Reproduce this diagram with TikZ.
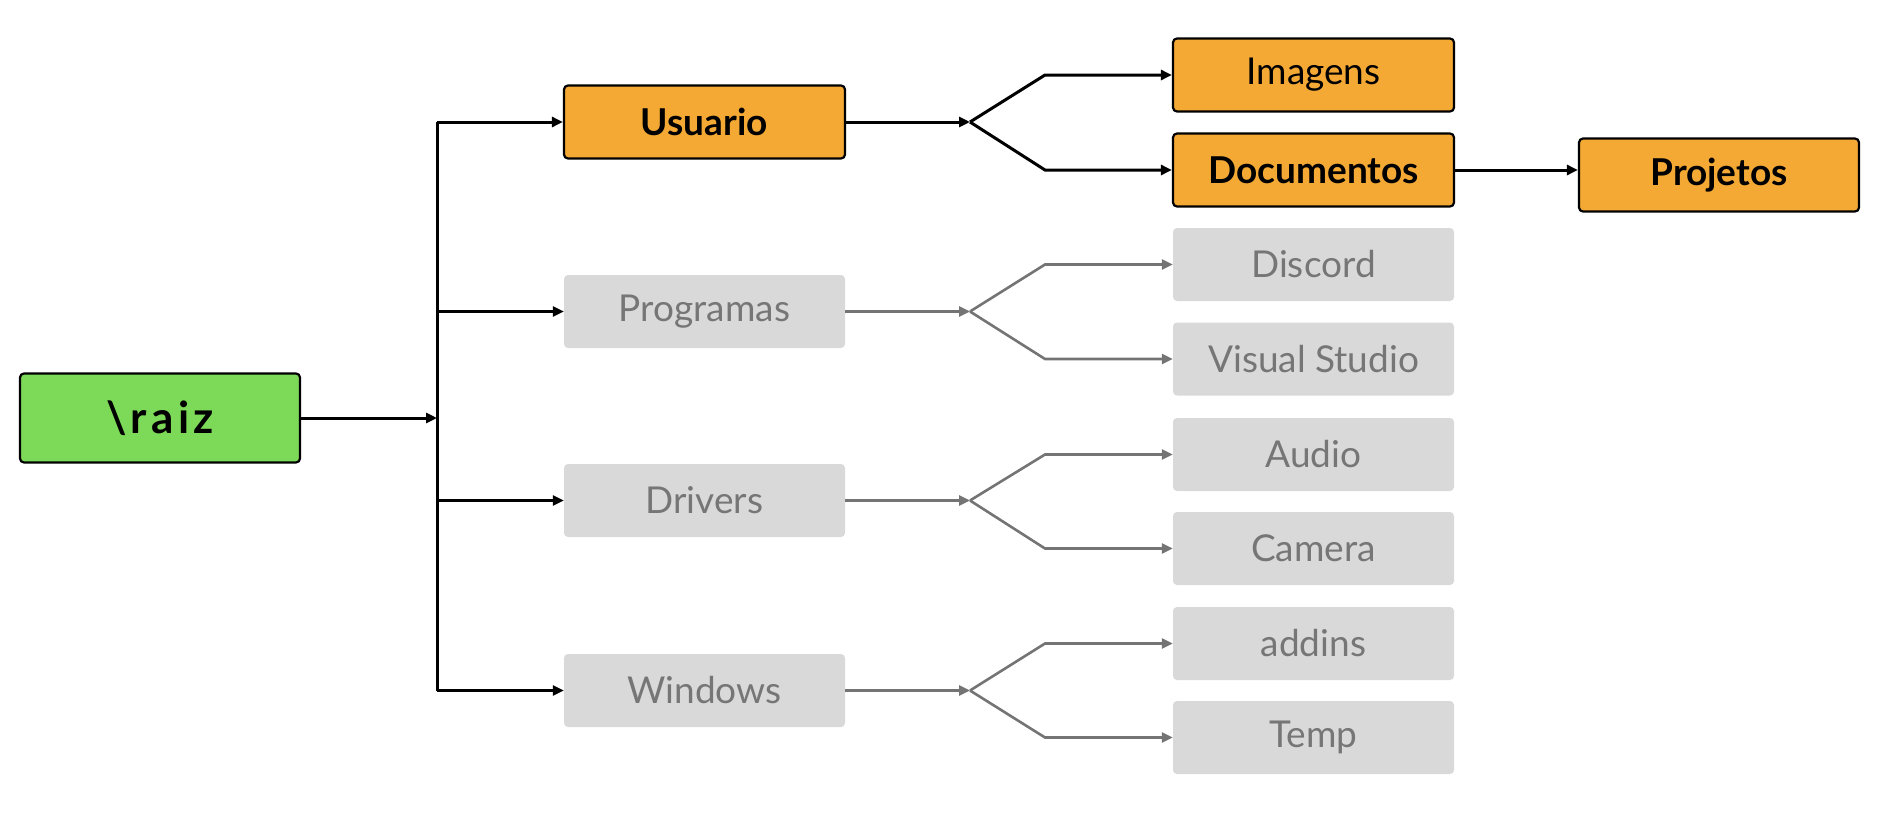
\documentclass[tikz,border=0pt]{standalone}
\usepackage{fontspec}
\setmainfont{Lato}
\usetikzlibrary{arrows.meta}
\definecolor{raizgreen}{HTML}{7DDA58}
\definecolor{boxorange}{HTML}{F4A935}
\definecolor{boxgray}{HTML}{D9D9D9}
\definecolor{txtgray}{HTML}{767676}
\definecolor{lngray}{HTML}{747474}
\tikzset{
  base/.style={minimum width=281pt, minimum height=73pt, rounded corners=4pt, inner sep=0pt, font=\fontsize{37}{42}\selectfont},
  orangebox/.style={base, fill=boxorange, draw=black, line width=2.2pt},
  orangebold/.style={orangebox, font=\fontsize{37}{42}\selectfont\bfseries},
  graybox/.style={base, fill=boxgray, text=txtgray},
  blk/.style={line width=3pt, black, -{Triangle[length=11pt,width=10pt]}},
  blkline/.style={line width=3pt, black},
  gry/.style={line width=2.6pt, lngray, -{Triangle[length=11pt,width=10pt]}},
}
\begin{document}
\begin{tikzpicture}[x=1pt,y=-1pt]
\useasboundingbox (0,0) rectangle (1877,819);
% root
\node[base, minimum width=280pt, minimum height=89pt, fill=raizgreen, draw=black, line width=2.2pt, font=\fontsize{44}{48}\selectfont\bfseries] (raiz) at (160,418) {\addfontfeature{LetterSpace=10}\textbackslash raiz};
% level 1
\node[orangebold] (usuario) at (704.5,122) {Usuario};
\node[graybox] (programas) at (704.5,311.5) {Programas};
\node[graybox] (drivers) at (704.5,500.5) {Drivers};
\node[graybox] (windows) at (704.5,690.5) {Windows};
% level 2
\node[orangebox] (imagens) at (1313.5,75) {Imagens};
\node[orangebold] (documentos) at (1313.5,170) {Documentos};
\node[graybox] (discord) at (1313.5,264.5) {Discord};
\node[graybox] (visual) at (1313.5,359) {Visual Studio};
\node[graybox] (audio) at (1313.5,454.5) {Audio};
\node[graybox] (camera) at (1313.5,548.5) {Camera};
\node[graybox] (addins) at (1313.5,643.5) {addins};
\node[graybox] (temp) at (1313.5,737.5) {Temp};
% level 3
\node[orangebold, minimum width=280pt] (projetos) at (1719,175) {Projetos};
% trunk
\coordinate (rj) at (437,418);
\coordinate (t1) at (437,122);
\coordinate (t2) at (437,311.5);
\coordinate (t3) at (437,500.5);
\coordinate (t4) at (437,690.5);
\draw[blkline] (t1) -- (t4);
\draw[blk] (raiz.east) -- (rj);
\draw[blk] (t1) -- (usuario.west);
\draw[blk] (t2) -- (programas.west);
\draw[blk] (t3) -- (drivers.west);
\draw[blk] (t4) -- (windows.west);
% forks
\coordinate (f1) at (970,122);
\draw[blk] (usuario.east) -- (f1);
\draw[blk] (f1) -- (1045,75) -- (imagens.west);
\draw[blk] (f1) -- (1045,170) -- (documentos.west);
\draw[blk] (documentos.east) -- (projetos.west |- documentos.east);
\coordinate (f2) at (970,311.5);
\draw[gry] (programas.east) -- (f2);
\draw[gry] (f2) -- (1045,264.5) -- (discord.west);
\draw[gry] (f2) -- (1045,359) -- (visual.west);
\coordinate (f3) at (970,500.5);
\draw[gry] (drivers.east) -- (f3);
\draw[gry] (f3) -- (1045,454.5) -- (audio.west);
\draw[gry] (f3) -- (1045,548.5) -- (camera.west);
\coordinate (f4) at (970,690.5);
\draw[gry] (windows.east) -- (f4);
\draw[gry] (f4) -- (1045,643.5) -- (addins.west);
\draw[gry] (f4) -- (1045,737.5) -- (temp.west);
\end{tikzpicture}
\end{document}
